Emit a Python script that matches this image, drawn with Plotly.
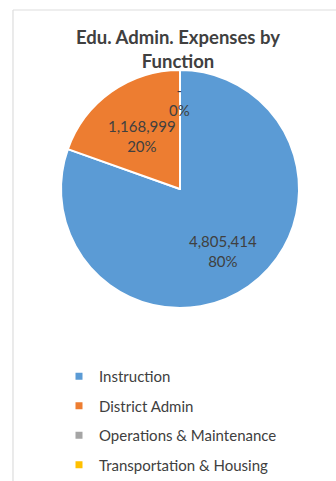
import math
import plotly.graph_objects as go

# Expense categories and amounts
categories = ["Instruction", "District Admin", "Operations & Maintenance", "Transportation & Housing"]
amounts = [4805414, 1168999, 0, 0]
colors = ["#5B9BD5", "#ED7D31", "#A5A5A5", "#FFC000"]

W, H = 336, 481
FONT = "Lato, 'Open Sans', sans-serif"
TXT = "#404040"

# Pie geometry in pixels
CX, CY, R = 180, 190, 118
# Radial position of each slice's data label, as a fraction of the radius
label_radius = [0.635, 0.56, 0.76, 0.76]

fig = go.Figure()

fig.add_trace(go.Pie(
    labels=categories,
    values=amounts,
    sort=False,
    direction="clockwise",
    rotation=0,
    marker=dict(colors=colors, line=dict(color="white", width=2)),
    textinfo="none",
    showlegend=False,
    hoverinfo="label+value+percent",
    domain=dict(x=[(CX - R - 2) / W, (CX + R + 2) / W],
                y=[1 - (CY + R) / H, 1 - (CY - R - 2) / H]),
))

# Data labels: value and share, placed along each slice's mid-angle
total = sum(amounts)
start = 0.0
zero_done = False
for cat, v, frac in zip(categories, amounts, label_radius):
    share = v / total
    mid = (start + share / 2) * 2 * math.pi
    start += share
    if v == 0:
        if zero_done:
            continue
        zero_done = True
        text = "-<br>" + f"{share:.0%}"
    else:
        text = f"{v:,}<br>{share:.0%}"
    px = CX + frac * R * math.sin(mid)
    py = CY - frac * R * math.cos(mid)
    fig.add_annotation(
        x=px / W, y=1 - py / H, xref="paper", yref="paper",
        xanchor="center", yanchor="middle",
        text=text, showarrow=False, align="center",
        font=dict(family=FONT, size=15, color=TXT),
    )

# Legend entries with small square swatches
for name, col in zip(categories, colors):
    fig.add_trace(go.Scatter(
        x=[None], y=[None], mode="markers", name=name,
        marker=dict(symbol="square", size=7, color=col),
        legendgroup=name, hoverinfo="skip",
    ))

fig.update_layout(
    width=W, height=H,
    margin=dict(l=0, r=0, t=0, b=0, autoexpand=False),
    paper_bgcolor="white",
    plot_bgcolor="white",
    title=dict(
        text="<b>Edu. Admin. Expenses by<br>Function</b>",
        x=178 / W, xanchor="center",
        y=1 - 44 / H, yanchor="middle",
        font=dict(family=FONT, size=18.5, color=TXT),
    ),
    xaxis=dict(visible=False),
    yaxis=dict(visible=False),
    legend=dict(
        x=59 / W, xanchor="left",
        y=1 - 360 / H, yanchor="top",
        font=dict(family=FONT, size=15, color=TXT),
        traceorder="grouped",
        tracegroupgap=7,
        itemwidth=30,
        bgcolor="rgba(0,0,0,0)",
    ),
    shapes=[
        dict(type="line", xref="paper", yref="paper",
             x0=13 / W, x1=1, y0=1 - 10 / H, y1=1 - 10 / H,
             line=dict(color="#DDDDDD", width=1.2)),
        dict(type="line", xref="paper", yref="paper",
             x0=13 / W, x1=13 / W, y0=0, y1=1 - 10 / H,
             line=dict(color="#DDDDDD", width=1.2)),
    ],
)

fig.write_html("out.html")
